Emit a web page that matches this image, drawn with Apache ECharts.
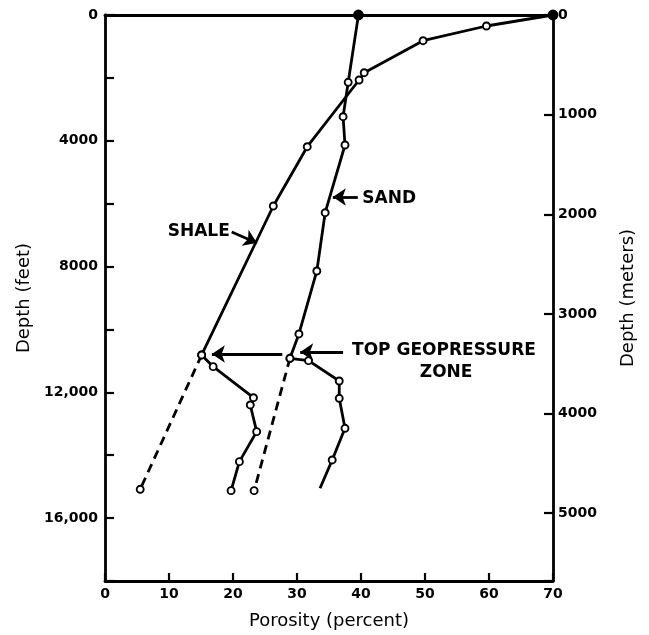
<!DOCTYPE html>
<html>
<head>
<meta charset="utf-8">
<script src="https://cdn.jsdelivr.net/npm/echarts@6/dist/echarts.min.js"></script>
<style>
  html, body { margin: 0; padding: 0; background: #fff; }
  #chart { width: 649px; height: 635px; }
</style>
</head>
<body>
<div id="chart"></div>
<script>
// ---- data (porosity %, depth ft) ----
const shaleUpper = [[70, 0], [59.6, 350], [49.7, 817], [40.5, 1835], [39.7, 2067], [31.6, 4188], [26.3, 6074], [15.1, 10812]];
const shaleLower = [[15.1, 10812], [16.9, 11184], [23.2, 12170], [22.7, 12402], [23.7, 13251], [21.0, 14205], [19.7, 15127]];
const shaleDashed = [[15.1, 10812], [5.5, 15083]];
const sandUpper = [[39.6, 0], [38.0, 2140], [37.2, 3234], [37.5, 4134], [34.4, 6287], [33.1, 8141], [30.3, 10144], [28.9, 10917]];
const sandLower = [[28.9, 10917], [31.8, 10993], [36.6, 11639], [36.6, 12189], [37.5, 13143], [35.5, 14151], [33.6, 15051]];
const sandDashed = [[28.9, 10917], [23.3, 15127]];

// tick labels
const xTicks = [0, 10, 20, 30, 40, 50, 60, 70];
const feetLabels = ['0', '4000', '8000', '12,000', '16,000'];
const feetLabelValues = [0, 4000, 8000, 12000, 16000];
const meterLabels = ['0', '1000', '2000', '3000', '4000', '5000'];
const meterLabelValues = [0, 1000, 2000, 3000, 4000, 5000];

// annotations (data coordinates)
const annotTexts = ['SAND', 'SHALE', 'TOP GEOPRESSURE', 'ZONE'];
const annotPoints = [[40.2, 5850], [19.5, 6900], [38.6, 10685], [53.3, 11384]];
const annotAlign = ['left', 'right', 'left', 'center'];
const arrowStarts = [[39.5, 5788], [19.8, 6900], [27.7, 10780], [37.2, 10717]];
const arrowEnds = [[35.6, 5788], [23.75, 7250], [16.7, 10780], [30.5, 10717]];

const FONT = 'DejaVu Sans';
const INK = '#000';

const chart = echarts.init(document.getElementById('chart'), null, { renderer: 'canvas' });

const markerStyle = { color: '#fff', borderColor: INK, borderWidth: 1.9 };
const lineStyle = { color: INK, width: 2.8 };

function openLine(data, opts) {
  return Object.assign({
    type: 'line',
    data: data,
    xAxisIndex: 0,
    yAxisIndex: 0,
    symbol: 'circle',
    symbolSize: 7,
    showAllSymbol: true,
    lineStyle: lineStyle,
    itemStyle: markerStyle,
    z: 3,
    silent: true
  }, opts || {});
}

const axisLineStyle = { show: true, onZero: false, lineStyle: { color: INK, width: 2.8 } };
const tickLabel = { fontFamily: FONT, fontWeight: 'bold', fontSize: 14, color: INK };
const nameStyle = { fontFamily: FONT, fontSize: 18, color: INK };

const option = {
  animation: false,
  backgroundColor: '#fff',
  grid: { left: 105, right: 96, top: 15, bottom: 54 },
  xAxis: [
    {
      type: 'value', position: 'bottom', min: 0, max: 70, interval: 10,
      name: 'Porosity (percent)', nameLocation: 'middle', nameGap: 31,
      nameTextStyle: nameStyle,
      axisLine: axisLineStyle,
      axisTick: { show: true, inside: true, length: 8, lineStyle: { color: INK, width: 2.2 } },
      axisLabel: Object.assign({ margin: 6,
        formatter: v => xTicks.indexOf(v) >= 0 ? String(v) : '' }, tickLabel),
      splitLine: { show: false }
    },
    {
      type: 'value', position: 'top', min: 0, max: 70,
      axisLine: axisLineStyle,
      axisTick: { show: false }, axisLabel: { show: false }, splitLine: { show: false }
    }
  ],
  yAxis: [
    {
      type: 'value', position: 'left', inverse: true, min: 0, max: 18000, interval: 2000,
      name: 'Depth (feet)', nameLocation: 'middle', nameGap: 71, nameRotate: 90,
      nameTextStyle: nameStyle,
      axisLine: axisLineStyle,
      axisTick: { show: true, inside: true, length: 9, lineStyle: { color: INK, width: 2.2 } },
      axisLabel: Object.assign({ margin: 7,
        formatter: v => { const i = feetLabelValues.indexOf(v); return i >= 0 ? feetLabels[i] : ''; } }, tickLabel),
      splitLine: { show: false }
    },
    {
      type: 'value', position: 'right', inverse: true, min: 0, max: 5680, interval: 1000,
      name: 'Depth (meters)', nameLocation: 'middle', nameGap: 66, nameRotate: 90,
      nameTextStyle: nameStyle,
      axisLine: axisLineStyle,
      axisTick: { show: true, inside: true, length: 9, lineStyle: { color: INK, width: 2.2 } },
      axisLabel: Object.assign({ margin: 5,
        formatter: v => { const i = meterLabelValues.indexOf(v); return i >= 0 ? meterLabels[i] : ''; } }, tickLabel),
      splitLine: { show: false }
    }
  ],
  series: [
    // dashed extrapolations (drawn first)
    openLine(shaleDashed.map((p, i) => i === 0 ? { value: p, symbol: 'none' } : p),
      { lineStyle: { color: INK, width: 2.8, type: [9, 6] }, z: 2 }),
    openLine(sandDashed.map((p, i) => i === 0 ? { value: p, symbol: 'none' } : p),
      { lineStyle: { color: INK, width: 2.8, type: [9, 6] }, z: 2 }),
    // solid curves
    openLine(shaleUpper.map((p, i) => i === 0 ? { value: p, symbolSize: 9, itemStyle: { color: INK } } : p)),
    openLine(shaleLower),
    openLine(sandUpper.map((p, i) => i === 0 ? { value: p, symbolSize: 9, itemStyle: { color: INK } } : p)),
    openLine(sandLower.map((p, i, a) => i === a.length - 1 ? { value: p, symbol: 'none' } : p)),
    // annotation text + arrows
    {
      type: 'scatter',
      xAxisIndex: 0, yAxisIndex: 0,
      symbol: 'circle',
      symbolSize: 1,
      itemStyle: { color: 'rgba(0,0,0,0)' },
      silent: true,
      z: 5,
      data: annotTexts.map((t, i) => ({
        name: t, value: annotPoints[i],
        label: { show: true, position: 'inside', formatter: t, align: annotAlign[i], verticalAlign: 'middle',
          fontFamily: FONT, fontWeight: 'bold', fontSize: 17, color: '#000', opacity: 1, textBorderWidth: 0 }
      })),
      markLine: {
        silent: true,
        symbol: ['none', 'arrow'],
        symbolSize: 13,
        label: { show: false },
        lineStyle: { color: INK, width: 2.8, type: 'solid', opacity: 1 },
        data: arrowStarts.map((s, i) => [{ coord: s }, { coord: arrowEnds[i] }])
      }
    }
  ]
};

chart.setOption(option);
</script>
</body>
</html>
